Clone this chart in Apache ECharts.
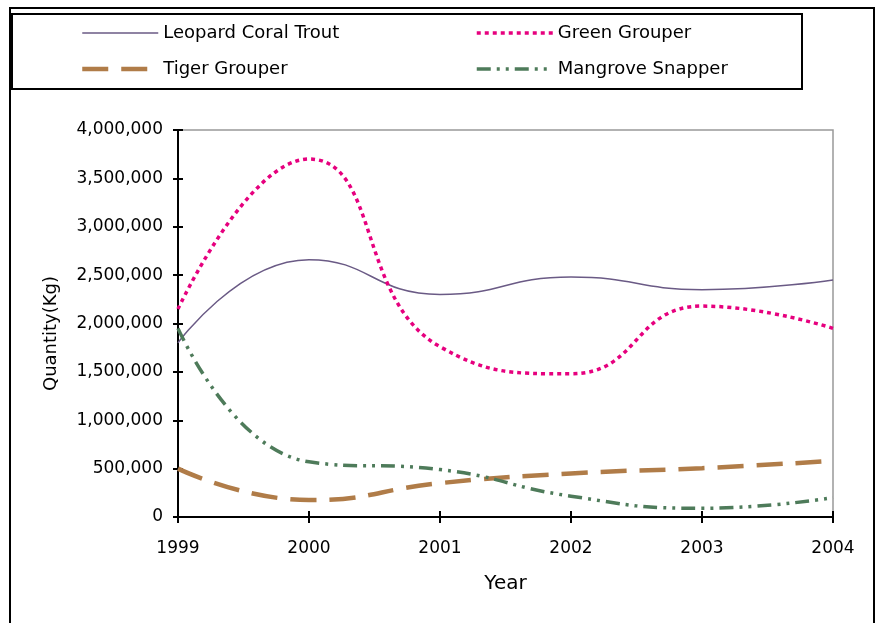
<!DOCTYPE html>
<html><head><meta charset="utf-8">
<script src="https://cdn.jsdelivr.net/npm/echarts@6/dist/echarts.min.js"></script>
<style>html,body{margin:0;padding:0;background:#fff}#c{width:878px;height:623px}</style>
</head><body><div id="c"></div>
<script>
const years = ['1999','2000','2001','2002','2003','2004'];
const leopardCoralTrout = [1800000, 2660000, 2300000, 2480000, 2350000, 2450000];
const greenGrouper = [2150000, 3700000, 1760000, 1480000, 2180000, 1950000];
const tigerGrouper = [500000, 175000, 350000, 450000, 505000, 580000];
const mangroveSnapper = [1950000, 570000, 490000, 215000, 90000, 200000];
const seriesNames = ['Leopard Coral Trout', 'Green Grouper', 'Tiger Grouper', 'Mangrove Snapper'];

const FONT = 'DejaVu Sans';
const styles = {
  'Leopard Coral Trout': { color: '#6a5a85', width: 1.5, type: 'solid' },
  'Green Grouper': { color: '#e6007e', width: 3.5, type: [4, 4] },
  'Tiger Grouper': { color: '#b07c48', width: 4.5, type: [26, 13] },
  'Mangrove Snapper': { color: '#4e7b5a', width: 3.5, type: [14, 6, 3, 6, 3, 6] }
};
const chart = echarts.init(document.getElementById('c'));
function mk(name, data) {
  const s = styles[name];
  return {
    name, type: 'line', data, smooth: 0.5, symbol: 'none', yAxisIndex: 0, xAxisIndex: 0,
    lineStyle: { color: s.color, width: s.width, type: s.type }, itemStyle: { color: s.color }
  };
}
function legItem(name) {
  const s = styles[name];
  return { name, lineStyle: { color: s.color, width: s.width, type: s.type } };
}
const legendCommon = {
  orient: 'vertical', top: 24, itemWidth: 76, itemHeight: 14, itemGap: 18, padding: 0,
  itemStyle: { opacity: 0 },
  textStyle: { fontFamily: FONT, fontSize: 18, color: '#000' }
};
chart.setOption({
  animation: false,
  textStyle: { fontFamily: FONT },
  graphic: [
    { type: 'rect', shape: { x: 10, y: 8, width: 864, height: 640 }, style: { fill: 'none', stroke: '#000', lineWidth: 2 } },
    { type: 'rect', shape: { x: 12, y: 14, width: 790, height: 75 }, style: { fill: 'none', stroke: '#000', lineWidth: 2 } }
  ],
  legend: [
    Object.assign({ data: [legItem(seriesNames[0]), legItem(seriesNames[2])], left: 80 }, legendCommon),
    Object.assign({ data: [legItem(seriesNames[1]), legItem(seriesNames[3])], left: 475 }, legendCommon)
  ],
  grid: { left: 178, top: 130, right: 45, bottom: 106, show: true, borderColor: '#999', borderWidth: 1.5, containLabel: false },
  xAxis: [{
    type: 'category', data: years, boundaryGap: false,
    name: 'Year', nameLocation: 'middle', nameGap: 57,
    nameTextStyle: { fontFamily: FONT, fontSize: 20, color: '#000' },
    axisLine: { lineStyle: { color: '#000', width: 2 } },
    axisTick: { show: true, length: 6, lineStyle: { color: '#000', width: 2 } },
    axisLabel: { fontFamily: FONT, fontSize: 17, color: '#000', margin: 23 },
    splitLine: { show: false }
  }, {
    type: 'category', data: years, boundaryGap: false, position: 'bottom',
    axisLine: { show: false }, axisLabel: { show: false }, splitLine: { show: false },
    axisTick: { show: true, inside: true, length: 6, lineStyle: { color: '#000', width: 2 } }
  }],
  yAxis: [{
    type: 'value', min: 0, max: 4000000, interval: 500000,
    name: 'Quantity(Kg)', nameLocation: 'middle', nameGap: 118, nameRotate: 90,
    nameTextStyle: { fontFamily: FONT, fontSize: 18, color: '#000', padding: [0, 20, 0, 0] },
    axisLine: { show: true, lineStyle: { color: '#000', width: 2 } },
    axisTick: { show: true, length: 5, lineStyle: { color: '#000', width: 2 } },
    axisLabel: { fontFamily: FONT, fontSize: 17, color: '#000', margin: 15,
      formatter: v => v.toLocaleString('en-US') },
    splitLine: { show: false }
  }, {
    type: 'value', min: 0, max: 4000000, interval: 500000, position: 'left',
    axisLine: { show: false }, axisLabel: { show: false }, splitLine: { show: false },
    axisTick: { show: true, inside: true, length: 5, lineStyle: { color: '#000', width: 2 } }
  }],
  series: [
    mk(seriesNames[0], leopardCoralTrout),
    mk(seriesNames[1], greenGrouper),
    mk(seriesNames[2], tigerGrouper),
    mk(seriesNames[3], mangroveSnapper)
  ]
});
</script></body></html>
